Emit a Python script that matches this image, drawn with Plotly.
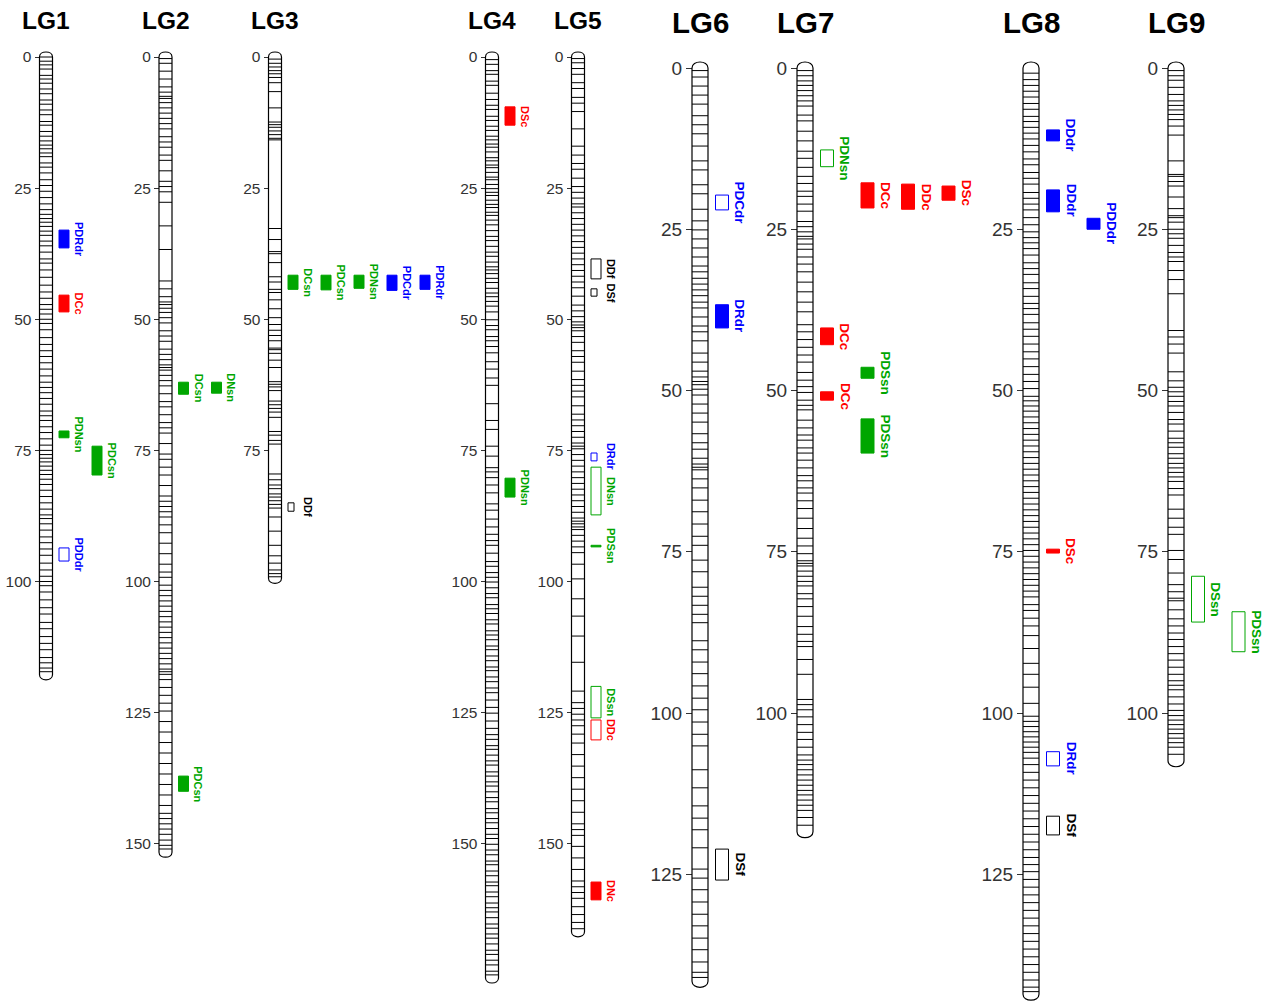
import plotly.graph_objects as go

# ---------------- DATA ----------------
LG_NAMES = ["LG1", "LG2", "LG3", "LG4", "LG5", "LG6", "LG7", "LG8", "LG9"]
LG_LENGTHS = [117.8, 151.6, 99.4, 175.6, 166.8, 141.6, 118.4, 143.6, 107.4]

LG_TICKS = [
    [0, 25, 50, 75, 100],
    [0, 25, 50, 75, 100, 125, 150],
    [0, 25, 50, 75],
    [0, 25, 50, 75, 100, 125, 150],
    [0, 25, 50, 75, 100, 125, 150],
    [0, 25, 50, 75, 100, 125],
    [0, 25, 50, 75, 100],
    [25, 50, 75, 100, 125],
    [0, 25, 50, 75, 100],
]

LG1_MARKERS = [0, 0.8, 1.5, 2.3, 3.5, 4.2, 5.0, 6.1, 7.0, 8.2, 9.0, 10.1, 11.0, 12.3, 13.0, 14.2,
               15.1, 16.0, 16.8, 17.5, 18.3, 19.0, 20.2, 21.0, 22.1, 23.4, 24.5, 25.6, 26.8, 28.0,
               29.1, 30.0, 30.8, 31.5, 32.3, 33.2, 34.0, 35.1, 36.0, 37.2, 38.5, 39.3, 40.6, 42.0,
               43.5, 44.8, 46.0, 47.2, 48.1, 49.0, 50.0, 50.8, 52.0, 53.5, 54.8, 56.0, 57.1, 58.3,
               59.5, 60.8, 62.0, 63.0, 64.0, 65.1, 66.2, 67.5, 68.4, 69.3, 70.5, 71.6, 72.8, 74.0,
               75.0, 75.8, 76.5, 77.2, 78.0, 78.8, 79.6, 80.5, 81.5, 82.6, 83.8, 85.0, 86.2, 87.3,
               88.0, 89.0, 90.2, 91.5, 92.6, 93.8, 95.0, 96.5, 97.8, 99.0, 100.0, 100.8, 102.0,
               103.5, 105.0, 106.2, 107.8, 109.0, 110.5, 111.8, 113.0, 114.5, 115.5, 116.5, 117.2]
LG2_MARKERS = [0.3, 1.2, 2.7, 4.2, 5.7, 6.7, 7.5, 7.9, 8.7, 9.7, 10.7, 11.7, 12.7, 13.7, 15.2, 16.2,
               17.2, 18.7, 19.7, 21.7, 23.7, 24.7, 25.7, 27.7, 32.2, 36.7, 42.7, 44.2, 45.7, 46.7,
               47.2, 47.9, 48.7, 49.7, 50.7, 52.2, 53.2, 54.2, 55.7, 56.7, 57.7, 58.7, 59.2, 59.7,
               60.7, 61.7, 62.7, 64.2, 65.7, 66.7, 68.2, 69.7, 70.7, 71.7, 73.7, 75.7, 76.7, 78.2,
               79.7, 81.7, 83.7, 84.7, 85.7, 86.7, 87.7, 89.2, 90.7, 92.7, 94.7, 96.7, 98.2, 99.2,
               100.7, 101.7, 102.7, 103.7, 104.7, 105.7, 106.7, 107.7, 108.7, 109.7, 110.7, 111.7,
               112.7, 113.7, 114.7, 115.7, 116.7, 117.2, 117.7, 118.7, 120.2, 121.7, 123.2, 124.7,
               126.7, 128.7, 130.7, 132.7, 134.7, 136.7, 138.7, 140.7, 142.7, 144.2, 145.2, 146.2,
               147.2, 148.2, 149.3, 150.3, 151.0]
LG3_MARKERS = [0.4, 1.2, 1.9, 2.6, 3.2, 3.9, 4.9, 6.6, 9.7, 12.4, 12.9, 13.4, 14.1, 14.8, 15.5, 15.8,
               32.7, 34.8, 37.1, 37.5, 39.2, 41.9, 42.9, 44.3, 44.9, 46.3, 48.0, 49.7, 51.0, 52.1,
               53.1, 54.1, 55.5, 55.8, 56.5, 57.8, 59.2, 61.9, 62.4, 62.9, 63.6, 65.6, 66.3, 67.0,
               67.7, 68.7, 71.4, 72.1, 73.1, 73.8, 79.5, 80.6, 81.6, 82.3, 83.3, 83.9, 84.6, 85.3,
               86.0, 87.7, 90.4, 93.1, 95.1, 96.5, 97.8, 98.5, 99.1]
LG4_MARKERS = [0.5, 1.4, 2.6, 3.3, 4.6, 5.4, 6.9, 8.1, 9.2, 10.0, 11.3, 12.1, 13.2, 14.0, 15.1, 15.8,
               16.6, 17.2, 18.1, 19.2, 19.8, 20.6, 21.1, 22.0, 22.9, 23.4, 24.3, 25.1, 25.8, 26.4,
               27.3, 28.1, 28.7, 29.6, 30.2, 31.1, 32.0, 33.1, 34.2, 35.0, 36.1, 37.2, 38.0, 39.1,
               40.0, 40.6, 41.3, 42.2, 43.0, 44.1, 45.0, 45.7, 46.6, 47.5, 48.6, 50.1, 51.2, 52.0,
               53.3, 54.1, 55.2, 56.4, 58.1, 59.5, 61.2, 62.6, 66.1, 69.3, 71.0, 74.2, 76.1, 78.3,
               79.1, 80.2, 81.6, 83.1, 85.2, 86.4, 88.1, 89.6, 91.0, 92.2, 93.1, 94.6, 96.2, 97.1,
               98.3, 99.2, 100.1, 101.2, 102.3, 103.1, 104.4, 105.2, 106.1, 107.3, 108.1, 109.4,
               110.2, 111.1, 112.3, 113.0, 114.2, 115.1, 116.3, 117.0, 118.2, 119.1, 120.3, 121.2,
               122.6, 124.0, 125.1, 126.6, 128.0, 129.2, 130.1, 131.3, 132.0, 133.1, 134.2, 135.0,
               136.3, 137.1, 138.2, 139.0, 140.1, 141.2, 142.0, 143.3, 144.1, 145.2, 146.0, 147.1,
               148.2, 149.0, 150.1, 151.2, 152.1, 153.3, 154.0, 155.2, 156.1, 157.3, 158.0, 159.2,
               160.1, 161.3, 162.2, 163.0, 164.1, 165.3, 166.1, 167.2, 168.0, 169.1, 170.3, 171.1,
               172.2, 173.1, 174.3, 175.0]
LG5_MARKERS = [0.3, 1.1, 2.2, 3.3, 4.9, 6.0, 7.7, 8.8, 10.4, 13.7, 17.0, 18.7, 20.3, 21.4, 23.1, 24.7,
               25.8, 26.9, 28.0, 28.6, 29.7, 30.8, 31.9, 33.0, 34.1, 35.2, 36.3, 37.4, 38.5, 39.6,
               40.7, 41.8, 42.9, 44.0, 45.6, 47.3, 48.4, 49.5, 50.5, 51.1, 51.6, 52.2, 53.3, 54.4,
               56.0, 57.1, 58.2, 59.9, 61.5, 62.6, 63.7, 64.8, 66.5, 68.1, 69.2, 70.3, 71.4, 72.5,
               73.6, 74.2, 74.7, 75.8, 76.9, 78.0, 79.1, 80.2, 81.3, 82.4, 83.5, 84.6, 85.7, 86.8,
               87.9, 88.5, 89.0, 89.6, 90.1, 91.2, 92.3, 93.4, 94.5, 96.7, 99.5, 103.3, 106.6,
               110.4, 115.4, 120.9, 123.1, 124.2, 125.3, 126.4, 127.5, 129.1, 130.8, 133.0, 135.2,
               137.4, 139.6, 141.8, 144.0, 146.2, 147.3, 148.4, 150.5, 152.7, 154.9, 157.1, 158.2,
               159.3, 160.4, 162.0, 163.5, 165.0, 166.2]
LG6_MARKERS = [0.4, 1.4, 2.8, 4.2, 5.6, 7.4, 8.8, 10.2, 12.1, 14.4, 15.8, 18.1, 19.5, 21.9, 23.7, 25.1,
               26.5, 27.9, 29.3, 30.7, 31.6, 32.6, 33.5, 34.4, 35.3, 36.3, 37.2, 38.6, 40.0, 40.9,
               42.3, 44.2, 45.6, 47.0, 47.9, 48.6, 49.1, 49.8, 50.7, 52.1, 53.5, 54.9, 56.7, 58.1,
               59.1, 60.5, 61.4, 61.9, 62.3, 63.7, 65.1, 67.0, 68.8, 70.7, 72.6, 74.0, 76.3, 78.1,
               80.5, 81.9, 83.3, 84.7, 86.0, 88.8, 90.2, 92.1, 93.9, 95.8, 97.7, 99.5, 101.4, 103.3,
               105.1, 108.8, 111.6, 114.4, 116.3, 118.1, 120.9, 124.2, 125.6, 127.4, 129.3, 131.2,
               133.0, 134.9, 136.7, 138.6, 140.2, 141.0]
LG7_MARKERS = [0.4, 1.2, 2.0, 2.7, 3.5, 4.3, 5.1, 5.9, 7.3, 8.2, 9.8, 11.3, 12.9, 14.0, 15.4, 16.8,
               17.9, 19.1, 19.9, 21.1, 22.2, 23.8, 24.6, 25.4, 26.1, 26.5, 27.3, 28.1, 29.3, 30.4,
               31.6, 33.2, 34.7, 36.3, 37.8, 39.8, 40.9, 42.1, 43.3, 44.5, 45.6, 47.2, 48.4, 49.4,
               50.3, 51.5, 52.3, 53.0, 54.6, 55.8, 56.9, 57.7, 58.9, 59.7, 60.8, 62.0, 63.2, 64.0,
               65.1, 65.9, 67.1, 68.3, 69.8, 71.4, 72.9, 74.1, 75.3, 76.4, 76.8, 77.2, 78.0, 78.8,
               79.6, 80.3, 81.5, 82.3, 83.5, 85.0, 86.6, 87.8, 88.9, 89.7, 91.7, 94.0, 97.9, 98.7,
               99.5, 100.6, 101.8, 103.0, 104.1, 105.3, 106.5, 107.3, 108.0, 108.8, 109.6, 110.4,
               111.2, 112.0, 112.7, 113.5, 114.3, 115.1, 116.2, 117.4]
LG8_MARKERS = [0.8, 1.8, 2.7, 3.6, 4.5, 5.5, 6.4, 7.5, 8.3, 9.2, 10.1, 11.0, 12.0, 13.0, 14.1, 15.0,
               16.2, 17.1, 18.0, 19.3, 20.2, 21.1, 22.0, 23.2, 24.3, 25.4, 26.3, 27.1, 28.0, 29.0,
               30.2, 31.1, 32.0, 33.3, 34.2, 35.4, 36.5, 37.3, 38.2, 39.5, 40.5, 41.6, 42.8, 44.0,
               45.1, 46.3, 47.5, 48.6, 49.7, 50.9, 51.6, 52.4, 53.2, 54.1, 55.0, 55.9, 56.8, 57.7,
               58.6, 59.5, 60.4, 61.3, 62.2, 63.1, 64.0, 64.9, 65.8, 66.7, 67.6, 68.5, 69.4, 70.3,
               71.2, 72.1, 73.0, 73.9, 74.8, 75.7, 76.6, 77.5, 78.4, 79.3, 80.2, 81.1, 82.0, 83.2,
               84.1, 85.3, 86.5, 88.0, 90.0, 92.3, 94.0, 96.0, 98.5, 100.5, 101.3, 102.1, 102.9,
               103.7, 104.5, 105.3, 106.1, 107.0, 108.0, 109.2, 110.4, 111.6, 112.8, 114.0, 115.2,
               116.4, 117.6, 118.8, 120.0, 121.2, 122.4, 123.5, 124.6, 125.8, 127.0, 128.2, 129.4,
               130.6, 131.8, 133.0, 134.2, 135.4, 136.6, 137.8, 139.0, 140.2, 141.4, 142.5, 143.2]
LG9_MARKERS = [0.4, 1.2, 1.9, 3.0, 4.1, 5.1, 5.8, 6.5, 7.2, 8.0, 9.0, 10.4, 14.4, 16.5, 16.8, 17.6,
               18.3, 20.0, 21.8, 22.9, 23.2, 23.9, 25.0, 25.7, 26.4, 27.5, 28.6, 29.3, 30.0, 31.4,
               32.8, 35.0, 40.7, 41.7, 42.8, 44.2, 47.1, 48.5, 49.5, 50.2, 50.9, 51.7, 52.4, 53.4,
               54.5, 55.2, 56.3, 57.4, 58.1, 58.8, 59.8, 60.5, 61.3, 62.0, 62.7, 63.4, 64.1, 65.2,
               66.2, 68.4, 69.8, 71.2, 72.3, 74.8, 76.2, 78.3, 80.1, 81.2, 82.2, 82.6, 84.0, 85.4,
               86.5, 87.6, 88.6, 89.7, 90.8, 91.8, 92.9, 94.0, 95.0, 95.7, 96.4, 97.5, 98.6, 99.6,
               100.4, 101.1, 101.8, 102.5, 103.2, 103.9, 104.6, 105.3, 106.4]

LG_MARKERS = [LG1_MARKERS, LG2_MARKERS, LG3_MARKERS, LG4_MARKERS, LG5_MARKERS,
              LG6_MARKERS, LG7_MARKERS, LG8_MARKERS, LG9_MARKERS]

# QTL table (linkage group index, trait, start cM, end cM, significant/filled)
QTL_LG = [0, 0, 0, 0, 0,
          1, 1, 1,
          2, 2, 2, 2, 2, 2,
          3, 3,
          4, 4, 4, 4, 4, 4, 4, 4,
          5, 5, 5,
          6, 6, 6, 6, 6, 6, 6, 6,
          7, 7, 7, 7, 7, 7,
          8, 8]
QTL_TRAIT = ["PDRdr", "DCc", "PDNsn", "PDCsn", "PDDdr",
             "DCsn", "DNsn", "PDCsn",
             "DCsn", "PDCsn", "PDNsn", "PDCdr", "PDRdr", "DDf",
             "DSc", "PDNsn",
             "DDf", "DSf", "DRdr", "DNsn", "PDSsn", "DSsn", "DDc", "DNc",
             "PDCdr", "DRdr", "DSf",
             "PDNsn", "DCc", "DDc", "DSc", "DCc", "PDSsn", "DCc", "PDSsn",
             "DDdr", "DDdr", "PDDdr", "DSc", "DRdr", "DSf",
             "DSsn", "PDSsn"]
QTL_START = [33.0, 45.4, 71.3, 74.2, 93.6,
             62.0, 62.0, 137.1,
             41.6, 41.6, 41.6, 41.6, 41.6, 85.0,
             9.5, 80.3,
             38.5, 44.2, 75.5, 78.2, 93.1, 120.0, 126.4, 157.3,
             19.7, 36.7, 121.1,
             12.7, 17.8, 18.0, 18.3, 40.3, 46.4, 50.2, 54.4,
             9.6, 18.9, 23.3, 74.6, 106.0, 116.0,
             78.8, 84.3]
QTL_END = [36.4, 48.6, 72.6, 79.7, 96.1,
           64.3, 64.1, 140.0,
           44.3, 44.4, 44.1, 44.5, 44.3, 86.6,
           13.0, 83.9,
           42.3, 45.6, 77.0, 87.3, 93.4, 126.0, 130.2, 160.7,
           22.0, 40.3, 125.9,
           15.3, 21.7, 21.9, 20.5, 42.9, 48.1, 51.5, 59.7,
           11.3, 22.3, 25.0, 75.2, 108.2, 118.9,
           85.9, 90.5]
QTL_FILLED = [1, 1, 1, 1, 0,
              1, 1, 1,
              1, 1, 1, 1, 1, 0,
              1, 1,
              0, 0, 0, 0, 1, 0, 0, 1,
              0, 1, 0,
              0, 1, 1, 1, 1, 1, 1, 1,
              1, 1, 1, 1, 0, 0,
              0, 0]

# ---------------- LAYOUT / STYLE ----------------
W, H = 1266, 1003
CENTERS = [46, 165.5, 275, 492, 578, 700, 805, 1031, 1176]
GROUP = ["L"] * 5 + ["R"] * 4
STY = {
    "L": dict(y0=57, ppc=5.245, cw=13, gap=6.5, bw=10, nbw=6, col=33, tick=15.5,
              lab=11, title=24.5, ty=20, ticklen=5, cap=5),
    "R": dict(y0=68, ppc=6.45, cw=16, gap=7.5, bw=13, nbw=7, col=40.5, tick=19,
              lab=13.5, title=29.5, ty=22, ticklen=6, cap=6),
}
# column / narrow-box placement of each QTL
QTL_COL = [0, 0, 0, 1, 0,
           0, 1, 0,
           0, 1, 2, 3, 4, 0,
           0, 0,
           0, 0, 0, 0, 0, 0, 0, 0,
           0, 0, 0,
           0, 1, 2, 3, 0, 1, 0, 1,
           0, 0, 1, 0, 0, 0,
           0, 1]
QTL_NARROW = [0, 0, 0, 0, 0,
              0, 0, 0,
              0, 0, 0, 0, 0, 1,
              0, 0,
              0, 1, 1, 0, 0, 0, 0, 0,
              0, 0, 0,
              0, 0, 0, 0, 0, 0, 0, 0,
              0, 0, 0, 0, 0, 0,
              0, 0]


def trait_color(t):
    if t.endswith("dr"):
        return "#0000FF"
    if t.endswith("sn"):
        return "#00A600"
    if t.endswith("c"):
        return "#FF0000"
    return "#000000"


FONT = "Arial, Liberation Sans, sans-serif"
fig = go.Figure()
shapes = []
annotations = []
layout_axes = {}

for i, name in enumerate(LG_NAMES):
    s = STY[GROUP[i]]
    yname = "y" if i == 0 else f"y{i + 1}"
    lname = "yaxis" if i == 0 else f"yaxis{i + 1}"
    top = -s["y0"] / s["ppc"]
    bot = (H - s["y0"]) / s["ppc"]
    xl = CENTERS[i] - s["cw"] / 2
    xr = CENTERS[i] + s["cw"] / 2
    ax = dict(domain=[0, 1], range=[bot, top], anchor="free", position=xl / W,
              side="left", showgrid=False, zeroline=False, showline=False,
              ticks="outside", ticklen=s["ticklen"], tickwidth=1, tickcolor="#333333",
              tickvals=LG_TICKS[i], ticktext=[str(v) for v in LG_TICKS[i]],
              tickfont=dict(family=FONT, size=s["tick"], color="#333333"),
              fixedrange=True)
    if i > 0:
        ax["overlaying"] = "y"
    layout_axes[lname] = ax

    # markers
    xs, ys = [], []
    for m in LG_MARKERS[i]:
        xs += [xl, xr, None]
        ys += [m, m, None]
    fig.add_trace(go.Scatter(x=xs, y=ys, mode="lines", xaxis="x", yaxis=yname,
                             line=dict(color="black", width=1), hoverinfo="skip",
                             showlegend=False))

    # chromosome outline with rounded ends
    L = LG_LENGTHS[i]
    c = s["cap"] / s["ppc"] / 0.75
    path = (f"M {xl},0 L {xl},{L} C {xl},{L + c} {xr},{L + c} {xr},{L} "
            f"L {xr},0 C {xr},{-c} {xl},{-c} {xl},0 Z")
    shapes.append(dict(type="path", path=path, xref="x", yref=yname,
                       line=dict(color="black", width=1.2), fillcolor="rgba(0,0,0,0)"))

    # title
    annotations.append(dict(text=f"<b>{name}</b>", x=CENTERS[i] / W, y=1 - s["ty"] / H,
                            xref="paper", yref="paper", showarrow=False,
                            xanchor="center", yanchor="middle",
                            font=dict(family=FONT, size=s["title"], color="black")))

# QTL boxes and labels
for k in range(len(QTL_TRAIT)):
    i = QTL_LG[k]
    s = STY[GROUP[i]]
    yname = "y" if i == 0 else f"y{i + 1}"
    col = CENTERS[i] + s["cw"] / 2 + s["gap"] + QTL_COL[k] * s["col"]
    w = s["nbw"] if QTL_NARROW[k] else s["bw"]
    color = trait_color(QTL_TRAIT[k])
    shapes.append(dict(type="rect", xref="x", yref=yname,
                       x0=col, x1=col + w, y0=QTL_START[k], y1=QTL_END[k],
                       line=dict(color=color, width=1),
                       fillcolor=color if QTL_FILLED[k] else "rgba(0,0,0,0)"))
    yc = (QTL_START[k] + QTL_END[k]) / 2
    annotations.append(dict(text=f"<b>{QTL_TRAIT[k]}</b>", x=col + s["bw"] + 2, y=yc,
                            xref="x", yref=yname, showarrow=False, textangle=90,
                            xanchor="left", yanchor="middle",
                            font=dict(family=FONT, size=s["lab"], color=color)))

fig.update_layout(
    width=W, height=H, margin=dict(l=0, r=0, t=0, b=0),
    paper_bgcolor="white", plot_bgcolor="white",
    xaxis=dict(domain=[0, 1], range=[0, W], visible=False, fixedrange=True),
    shapes=shapes, annotations=annotations, showlegend=False,
    **layout_axes,
)

fig.write_html("out.html",
               config={"displayModeBar": False},
               post_script="document.body.style.margin='0px';"
                           "document.body.style.overflow='hidden';")
